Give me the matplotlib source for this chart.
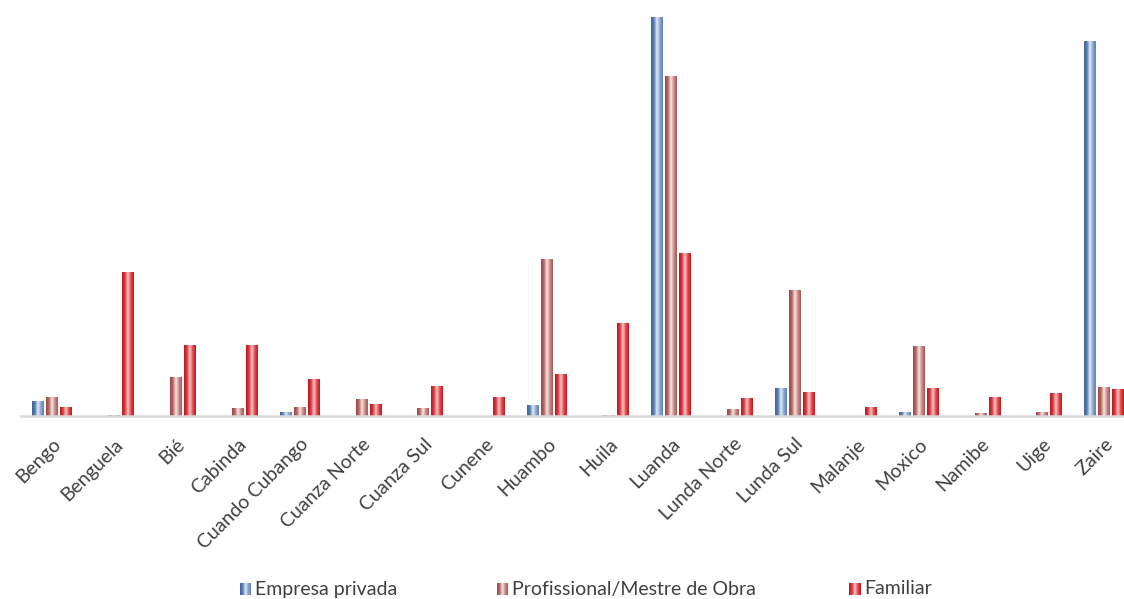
import numpy as np
import matplotlib
matplotlib.use("Agg")
import matplotlib.pyplot as plt
from matplotlib.colors import LinearSegmentedColormap

plt.rcParams['font.family'] = ['Lato', 'DejaVu Sans']

provincias = ['Bengo', 'Benguela', 'Bié', 'Cabinda', 'Cuando Cubango', 'Cuanza Norte',
              'Cuanza Sul', 'Cunene', 'Huambo', 'Huila', 'Luanda', 'Lunda Norte',
              'Lunda Sul', 'Malanje', 'Moxico', 'Namibe', 'Uige', 'Zaire']

empresa_privada = [15, 0, 0, 0, 4, 0, 0, 0, 11, 0, 399, 0, 28, 0, 4, 0, 0, 375]
profissional = [19, 1, 39, 8, 9, 17, 8, 0, 157, 1, 340, 7, 126, 0, 70, 3, 4, 29]
familiar = [9, 144, 71, 71, 37, 12, 30, 19, 42, 93, 163, 18, 24, 9, 28, 19, 23, 27]

series = ['Empresa privada', 'Profissional/Mestre de Obra', 'Familiar']
valores = [empresa_privada, profissional, familiar]

# horizontal shading per series: dark edge, light centre, medium edge
grad_cores = [
    ['#3d6496', '#5a7fb0', '#e4ecf6', '#8aa6cc', '#5d80b4'],
    ['#9a4643', '#b56a67', '#f6e6e5', '#c98c8a', '#a85552'],
    ['#c0141c', '#d43d43', '#f7c6c6', '#e0484c', '#c8151c'],
]
cmaps = [LinearSegmentedColormap.from_list('g%d' % i, c, N=64) for i, c in enumerate(grad_cores)]
grad = np.linspace(0, 1, 64).reshape(1, -1)

W, H = 1124, 599
fig = plt.figure(figsize=(W / 100, H / 100), dpi=100)
ax_l, ax_b, ax_t = 21, 416, 17
ax = fig.add_axes([ax_l / W, (H - ax_b) / H, (W - ax_l) / W, (ax_b - ax_t) / H])

x = np.arange(len(provincias))
largura = 0.19
passo = 0.226
for i, vals in enumerate(valores):
    pos = x + (i - 1) * passo
    bars = ax.bar(pos, vals, largura, color='none', edgecolor='none')
    for b in bars:
        if b.get_height() <= 0:
            continue
        im = ax.imshow(grad, cmap=cmaps[i], aspect='auto', interpolation='bilinear',
                       extent=[b.get_x(), b.get_x() + b.get_width(), 0, b.get_height()],
                       zorder=2)
        im.set_clip_path(b)

ax.set_xlim(-0.5, 17.32)
ax.set_ylim(0, 399)
for s in ['top', 'right', 'left']:
    ax.spines[s].set_visible(False)
ax.spines['bottom'].set_color('#d9d9d9')
ax.spines['bottom'].set_linewidth(1.8)
ax.set_yticks([])
ax.set_xticks(x)
ax.set_xticklabels(provincias, rotation=45, ha='right', rotation_mode='anchor',
                   fontsize=14, color='#404040')
ax.tick_params(axis='x', length=0, pad=14)

# legend along the bottom
leg_x = [240, 497, 849]
for i, nome in enumerate(series):
    lx = fig.add_axes([leg_x[i] / W, (H - 595) / H, 11 / W, 12 / H])
    lx.imshow(grad, cmap=cmaps[i], aspect='auto', interpolation='bilinear')
    lx.axis('off')
    fig.text((leg_x[i] + 15) / W, (H - 589) / H, nome, fontsize=14, color='#404040',
             va='center', ha='left')

fig.savefig('out.png', dpi=100)
